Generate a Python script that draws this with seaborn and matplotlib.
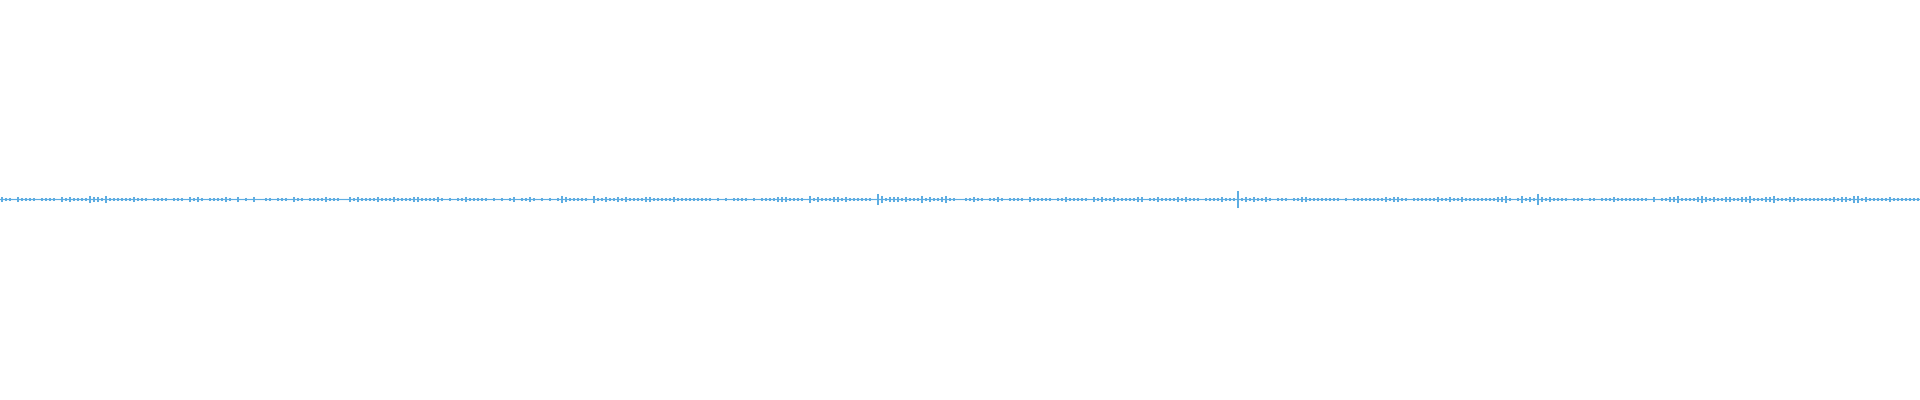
import matplotlib
matplotlib.use("Agg")
import matplotlib.pyplot as plt
import seaborn as sns
import pandas as pd

# Peak amplitude (in pixels) of the waveform, one value per 4-px bin, by segment
seg_0000_0240 = [2,1,1,0,2,1,1,1,1,0,1,1,1,1,0,2,1,2,1,1,1,1,3,2,2,1,3,1,1,1,
                 1,1,1,2,1,1,1,0,1,1,1,1,0,1,1,1,0,2,1,2,1,0,1,1,1,1,2,1,0,2]
seg_0240_0480 = [0,1,0,2,0,0,1,1,0,1,1,1,0,2,1,1,0,1,1,1,1,2,1,1,1,0,0,2,1,2,
                 1,1,1,1,2,1,1,1,2,1,1,1,1,2,2,1,1,1,1,2,1,0,1,0,1,1,2,1,1,1]
seg_0480_0720 = [1,1,0,1,0,1,0,1,2,0,1,1,2,1,0,1,0,1,0,1,3,2,1,1,1,1,1,0,3,1,
                 1,2,1,1,2,1,2,1,1,1,1,2,2,1,1,1,1,1,2,1,1,1,1,1,1,1,1,1,0,1]
seg_0720_0840 = [0,1,0,1,1,1,1,0,1,0,1,1,1,1,2,2,2,1,1,1,1,0,3,1,2,1,1,1,2,2]
seg_0840_1080 = [1,2,1,1,1,1,1,1,0,5,3,1,2,2,2,1,2,1,1,1,3,1,2,1,1,2,3,1,1,0,
                 0,1,1,2,1,1,0,1,1,2,1,0,1,1,1,1,0,2,1,1,1,1,1,0,1,1,2,1,1,1]
seg_1080_1200 = [1,1,0,2,1,2,1,1,2,1,1,1,1,1,2,2,0,1,1,2,1,1,1,1,2,1,2,1,1,1]
seg_1200_1440 = [0,1,1,1,1,2,1,1,1,8,1,2,1,2,1,1,2,1,0,1,1,1,0,1,1,2,2,1,1,1,
                 1,1,1,1,1,0,1,0,1,1,1,1,1,1,1,1,2,1,2,2,1,1,0,1,1,1,1,1,1,2]
seg_1440_1680 = [1,1,2,1,1,2,1,1,1,1,1,1,1,1,2,2,3,1,0,1,3,1,2,1,5,2,1,2,1,1,
                 1,1,0,1,1,1,0,1,1,0,1,1,1,2,1,1,1,1,1,1,1,1,0,2,0,1,1,2,2,3]
seg_1680_1920 = [1,1,1,1,2,3,2,1,2,1,1,2,2,1,1,2,2,3,1,1,1,2,2,3,1,1,1,2,2,1,
                 1,1,1,1,1,1,1,1,2,1,2,2,1,3,3,1,2,1,1,1,1,1,2,1,1,1,1,1,1,1]

amplitudes = (seg_0000_0240 + seg_0240_0480 + seg_0480_0720 + seg_0720_0840 +
              seg_0840_1080 + seg_1080_1200 + seg_1200_1440 + seg_1440_1680 +
              seg_1680_1920)

# build the waveform path: baseline with a vertical stroke at every bin
xs, ys = [-0.5], [0.0]
for i, a in enumerate(amplitudes):
    xs += [i, i, i, i]
    ys += [0.0, a, -a, 0.0]
xs.append(len(amplitudes) - 0.5)
ys.append(0.0)
df = pd.DataFrame({"x": xs, "y": ys})

sns.set_style("white")
fig = plt.figure(figsize=(19.2, 4.0), dpi=100)
ax = fig.add_axes([0, 0, 1, 1])
sns.lineplot(data=df, x="x", y="y", sort=False, estimator=None,
             color="#5DADE2", linewidth=0.85, ax=ax)
ax.set_xlim(-0.5, len(amplitudes) - 0.5)
ax.set_ylim(-200.5, 199.5)
ax.axis("off")
fig.savefig("out.png", dpi=100, facecolor="white")
